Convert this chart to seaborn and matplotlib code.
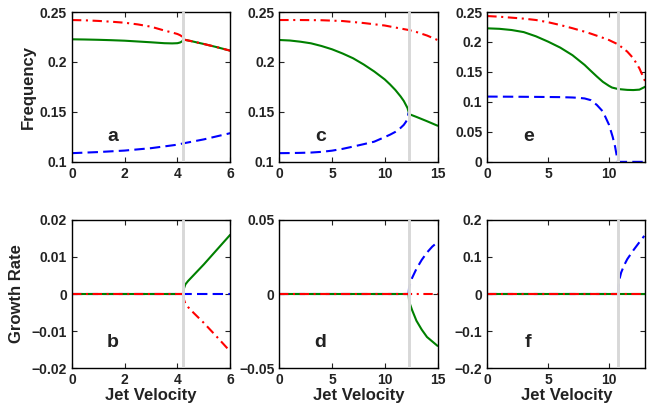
import numpy as np
import pandas as pd
import seaborn as sns
import matplotlib.pyplot as plt

# --------------------------------------------------
# DATA
# --------------------------------------------------
# critical jet velocities (grey vertical lines)
crit_a = 4.22
crit_c = 12.26
crit_e = 10.75

# panel a / b  (x range 0..6)
a_x1 = [0, 0.5, 1, 1.5, 2, 2.5, 3, 3.5, 3.8, 4.0, 4.1, 4.18, 4.22]
a_red1 = [0.2420, 0.2417, 0.2411, 0.2403, 0.2393, 0.2376, 0.2353, 0.2315,
          0.2295, 0.2280, 0.2268, 0.2254, 0.2245]
a_green1 = [0.2227, 0.2225, 0.2222, 0.2218, 0.2213, 0.2205, 0.2197, 0.2188,
            0.2186, 0.2188, 0.2195, 0.2207, 0.2222]
a_x2 = [4.22, 4.5, 5, 5.5, 6]
a_pair2 = [0.2225, 0.2210, 0.2180, 0.2148, 0.2113]
a_xb = [0, 1, 2, 3, 4, 4.22, 5, 6]
a_blue = [0.1087, 0.1098, 0.1113, 0.1137, 0.1172, 0.1185, 0.1225, 0.1287]

b_x2 = [4.22, 4.25, 4.3, 4.4, 4.6, 5, 5.5, 6]
b_green2 = [0, 0.0016, 0.0026, 0.0035, 0.0050, 0.0080, 0.0120, 0.0160]
b_red2 = [0, -0.0016, -0.0026, -0.0035, -0.0050, -0.0078, -0.0116, -0.0155]

# panel c / d  (x range 0..15)
c_x1 = [0, 1, 2, 3, 4, 5, 6, 7, 8, 9, 10, 10.5, 11, 11.5, 11.8, 12.0,
        12.15, 12.26]
c_green1 = [0.2220, 0.2215, 0.2203, 0.2187, 0.2160, 0.2127, 0.2085, 0.2037,
            0.1975, 0.1905, 0.1825, 0.1775, 0.1720, 0.1655, 0.1610, 0.1570,
            0.1540, 0.1500]
c_blue1 = [0.1087, 0.1088, 0.1090, 0.1093, 0.1100, 0.1112, 0.1130, 0.1153,
           0.1177, 0.1202, 0.1248, 0.1272, 0.1300, 0.1340, 0.1370, 0.1400,
           0.1430, 0.1495]
c_x2 = [12.26, 13, 14, 15]
c_green2 = [0.1480, 0.1450, 0.1407, 0.1362]
c_xr = [0, 2, 4, 6, 8, 10, 11, 12.26, 13, 14, 15]
c_red = [0.2420, 0.2420, 0.2418, 0.2410, 0.2390, 0.2365, 0.2345, 0.2320,
         0.2300, 0.2265, 0.2220]

d_x2 = [12.26, 12.3, 12.4, 12.6, 13, 13.5, 14, 14.5, 15]
d_blue2 = [0, 0.004, 0.007, 0.011, 0.017, 0.023, 0.028, 0.032, 0.035]
d_green2 = [0, -0.004, -0.007, -0.011, -0.018, -0.024, -0.029, -0.032, -0.035]

# panel e / f  (x range 0..13)
e_x = [0, 1, 2, 3, 4, 5, 6, 7, 8, 8.5, 9, 9.5, 10, 10.25, 10.75, 11.5, 12,
       12.5, 13]
e_red = [0.2433, 0.2422, 0.2406, 0.2390, 0.2367, 0.2330, 0.2283, 0.2230,
         0.2172, 0.2140, 0.2105, 0.2070, 0.2033, 0.2008, 0.1960, 0.1840,
         0.1728, 0.1560, 0.1330]
e_green = [0.2228, 0.2220, 0.2200, 0.2165, 0.2095, 0.2006, 0.1906, 0.1780,
           0.1617, 0.1520, 0.1425, 0.1335, 0.1268, 0.1240, 0.1215, 0.1201,
           0.1198, 0.1205, 0.1256]
e_xb = [0, 2, 4, 6, 7, 7.5, 8, 8.5, 9, 9.5, 10, 10.3, 10.5, 10.7, 10.75, 13]
e_blue = [0.1089, 0.1087, 0.1084, 0.1080, 0.1074, 0.1068, 0.1058, 0.1030,
          0.0950, 0.0840, 0.0620, 0.0420, 0.0256, 0.0030, 0.0, 0.0]

f_x2 = [10.75, 10.8, 10.9, 11, 11.25, 11.5, 12, 12.5, 12.9]
f_blue2 = [0, 0.030, 0.045, 0.058, 0.078, 0.094, 0.118, 0.140, 0.157]

# axis ticks
x_ticks_a = [0, 2, 4, 6]
x_ticks_c = [0, 5, 10, 15]
x_ticks_e = [0, 5, 10]
y_ticks_a = [0.1, 0.15, 0.2, 0.25]
y_labels_a = ["0.1", "0.15", "0.2", "0.25"]
y_ticks_e = [0, 0.05, 0.1, 0.15, 0.2, 0.25]
y_labels_e = ["0", "0.05", "0.1", "0.15", "0.2", "0.25"]
y_ticks_b = [-0.02, -0.01, 0, 0.01, 0.02]
y_labels_b = ["\u22120.02", "\u22120.01", "0", "0.01", "0.02"]
y_ticks_d = [-0.05, 0, 0.05]
y_labels_d = ["\u22120.05", "0", "0.05"]
y_ticks_f = [-0.2, -0.1, 0, 0.1, 0.2]
y_labels_f = ["\u22120.2", "\u22120.1", "0", "0.1", "0.2"]

# --------------------------------------------------
# STYLE
# --------------------------------------------------
sns.set_style("ticks")
plt.rcParams['font.family'] = ['Liberation Sans', 'DejaVu Sans']
plt.rcParams['font.weight'] = 'bold'
plt.rcParams['axes.labelweight'] = 'bold'

styles = {
    "blue": dict(color="#0000ff", linestyle=(0, (5, 2.5))),
    "green": dict(color="#008000", linestyle="-"),
    "red": dict(color="#ff0000", linestyle=(0, (4.5, 2.2, 1, 2.2))),
}


def line(ax, x, y, kind):
    sns.lineplot(x=x, y=y, ax=ax, linewidth=1.5, **styles[kind])


fig = plt.figure(figsize=(6.54, 4.15), dpi=100)
lefts = [0.110, 0.427, 0.745]
w = 0.242
axs_top = [fig.add_axes([l, 0.610, w, 0.361]) for l in lefts]
axs_bot = [fig.add_axes([l, 0.113, w, 0.357]) for l in lefts]

# --------------------------------------------------
# TOP ROW: FREQUENCY
# --------------------------------------------------
ax = axs_top[0]
line(ax, a_xb, a_blue, "blue")
line(ax, a_x1, a_green1, "green")
line(ax, a_x2, a_pair2, "green")
line(ax, a_x1, a_red1, "red")
line(ax, a_x2, a_pair2, "red")

ax = axs_top[1]
line(ax, c_x1, c_blue1, "blue")
line(ax, c_x1, c_green1, "green")
line(ax, c_x2, c_green2, "green")
line(ax, c_xr, c_red, "red")

ax = axs_top[2]
line(ax, e_xb, e_blue, "blue")
line(ax, e_x, e_green, "green")
line(ax, e_x, e_red, "red")

# --------------------------------------------------
# BOTTOM ROW: GROWTH RATE
# --------------------------------------------------
ax = axs_bot[0]
line(ax, [0, 6], [0, 0], "blue")
line(ax, [0, crit_a], [0, 0], "green")
line(ax, b_x2, b_green2, "green")
line(ax, [0, crit_a], [0, 0], "red")
line(ax, b_x2, b_red2, "red")

ax = axs_bot[1]
line(ax, [0, crit_c], [0, 0], "blue")
line(ax, d_x2, d_blue2, "blue")
line(ax, [0, crit_c], [0, 0], "green")
line(ax, d_x2, d_green2, "green")
line(ax, [0, 15], [0, 0], "red")

ax = axs_bot[2]
line(ax, [0, crit_e], [0, 0], "blue")
line(ax, f_x2, f_blue2, "blue")
line(ax, [0, 13], [0, 0], "green")
line(ax, [0, 13], [0, 0], "red")

# --------------------------------------------------
# AXES FORMATTING
# --------------------------------------------------
setup = [
    (axs_top[0], 6, x_ticks_a, (0.1, 0.25), y_ticks_a, y_labels_a, crit_a, "a"),
    (axs_top[1], 15, x_ticks_c, (0.1, 0.25), y_ticks_a, y_labels_a, crit_c, "c"),
    (axs_top[2], 13, x_ticks_e, (0, 0.25), y_ticks_e, y_labels_e, crit_e, "e"),
    (axs_bot[0], 6, x_ticks_a, (-0.02, 0.02), y_ticks_b, y_labels_b, crit_a, "b"),
    (axs_bot[1], 15, x_ticks_c, (-0.05, 0.05), y_ticks_d, y_labels_d, crit_c, "d"),
    (axs_bot[2], 13, x_ticks_e, (-0.2, 0.2), y_ticks_f, y_labels_f, crit_e, "f"),
]
for ax, xmax, xt, ylim, yt, yl, crit, letter in setup:
    ax.axvline(crit, color="#d8d8d8", linewidth=2.1, zorder=3)
    ax.set_xlim(0, xmax)
    ax.set_ylim(*ylim)
    ax.set_xticks(xt)
    ax.set_xticklabels([str(t) for t in xt])
    ax.set_yticks(yt)
    ax.set_yticklabels(yl)
    ax.tick_params(direction="in", top=True, right=True, length=3.5,
                   width=0.8, labelsize=10, pad=3.5, colors="#222222",
                   labelcolor="#222222")
    for s in ax.spines.values():
        s.set_linewidth(1.0)
        s.set_color("black")
    ax.set_xlabel("")
    ax.set_ylabel("")
    ax.text(0.26, 0.17, letter, transform=ax.transAxes, fontsize=14,
            fontweight="bold", ha="center", va="center", color="#222222")

axs_top[0].set_ylabel("Frequency", fontsize=12, fontweight="bold",
                      color="#222222")
axs_top[0].yaxis.set_label_coords(-0.23, 0.5)
axs_bot[0].set_ylabel("Growth Rate", fontsize=12, fontweight="bold",
                      color="#222222")
axs_bot[0].yaxis.set_label_coords(-0.30, 0.5)
for ax in axs_bot:
    ax.set_xlabel("Jet Velocity", fontsize=12, fontweight="bold",
                  color="#222222", labelpad=1)

fig.savefig("out.png", dpi=100)
